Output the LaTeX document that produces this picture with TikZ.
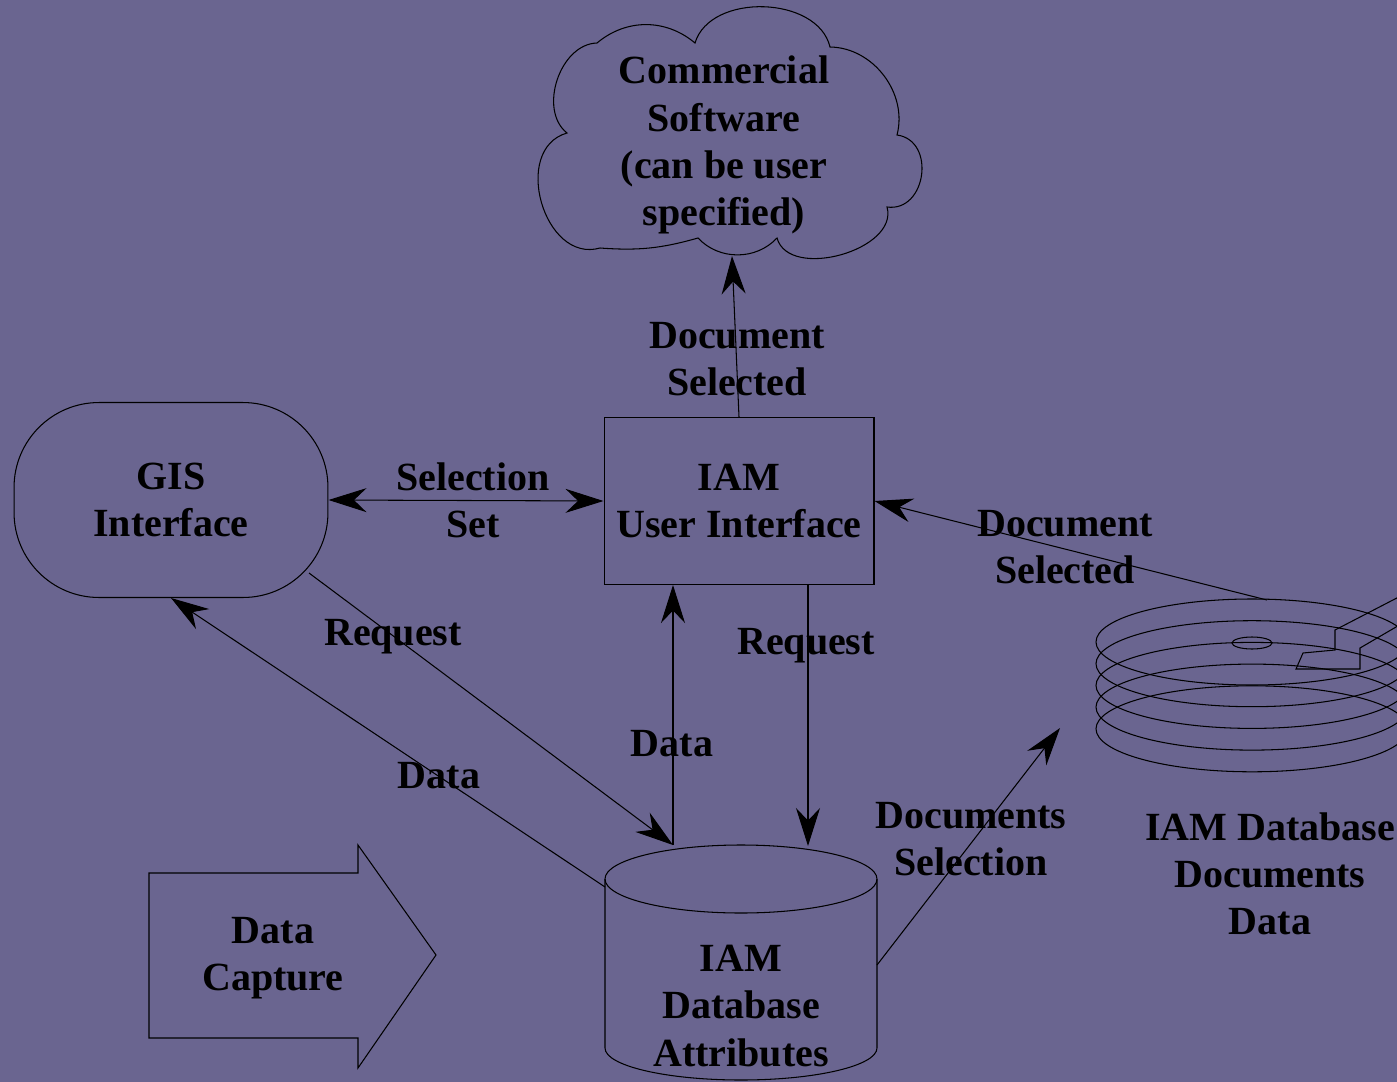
\documentclass[tikz,border=0pt]{standalone}
\usepackage{fontspec}
\setmainfont{Liberation Serif}
\usepackage{tikz}
\usetikzlibrary{arrows.meta}
\usetikzlibrary{positioning}
\definecolor{bgpurple}{RGB}{106,101,144}

\begin{document}
\begin{tikzpicture}[x=0.02cm, y=-0.02cm, line width=0.6pt,
    flow/.style={-{Stealth[length=0.76cm,width=0.48cm,inset=0.25cm]}},
    flowboth/.style={{Stealth[length=0.76cm,width=0.48cm,inset=0.25cm]}-{Stealth[length=0.76cm,width=0.48cm,inset=0.25cm]}},
    gisbox/.style={draw, rounded corners=1.7cm, minimum width=6.28cm, minimum height=3.9cm},
    uibox/.style={draw, minimum width=5.4cm, minimum height=3.34cm}]
          \tikzstyle{every node}=[font=\fontsize{22.76}{26.8}\selectfont\bfseries, align=center, inner sep=0pt]
          \fill[bgpurple] (0,0) rectangle (1397,1082);
          \useasboundingbox (0,0) rectangle (1397,1082);
          \clip (0,0) rectangle (1397,1082);
          % cloud
          \draw (597,43) to[bend left=40] (695,43) to[bend left=75] (830,47)
            to[bend left=52] (897,135) to[bend left=90, looseness=1.4] (887,207)
            to[bend left=90] (777,238) to[bend left=47] (698,238)
            to[bend left=10] (600,248) to[bend left=90, looseness=1.25] (567,133)
            to[bend left=70] (597,43);
          \node (cloudtxt) at (724,145) {Commercial\\Software\\(can be user\\specified)};
          \coordinate (cloudbot) at (732,256);
          % boxes
          \node[gisbox] (gis) at (171,500) {GIS\\Interface};
          \node[uibox] (ui) at (739,501) {IAM\\User Interface};
          % attributes database
          \draw (605,879) -- (605,1048) arc[start angle=180, end angle=0, x radius=136, y radius=32] -- (877,879);
          \draw (741,879) ellipse[x radius=136, y radius=34];
          \node (dbattr) at (741,1006) {IAM\\Database\\Attributes};
          \coordinate (dbtop) at (673,845);
          \coordinate (dbtopr) at (808,846);
          \coordinate (dbleft) at (605,887);
          \coordinate (dbright) at (877,965);
          % data capture
          \draw (149,873) -- (358,873) -- (358,845) -- (436,955) -- (358,1068) -- (358,1038) -- (149,1038) -- cycle;
          \node (capture) at (273,958) {Data\\Capture};
          % documents disk
          \foreach \k in {0,...,4}
            \draw (1252,642+21.7*\k) ellipse[x radius=156, y radius=43];
          \draw (1252,643) ellipse[x radius=20, y radius=6];
          \draw (1420,586) -- (1335,630) -- (1335,650) -- (1303,653) -- (1296,669) -- (1360,669) -- (1360,648) -- (1420,613);
          \coordinate (disktop) at (1267,600);
          \coordinate (docsend) at (1060,728);
          \node (dbdocs) at (1270,874) {IAM Database\\Documents\\Data};
          % connectors
          \draw[flow] (ui.north) -- (cloudbot);
          \draw[flowboth] (gis.east) -- (ui.west);
          \coordinate (gisreq) at (309,573);
          \draw[flow] (gisreq) -- (dbtop);
          \draw[flow] (dbleft) -- (gis.south);
          \draw[flow] (dbtop) -- (dbtop |- ui.south);
          \draw[flow] (ui.south -| dbtopr) -- (dbtopr);
          \draw[flow] (dbright) -- (docsend);
          \draw[flow] (disktop) -- (ui.east);
          % labels
          \node (lbldocsel) at (737,359) {Document\\Selected};
          \node (lblselset) at (473,500) {Selection\\Set};
          \node (lbldocsel2) at (1065,547) {Document\\Selected};
          \node (lblreq) at (393,637) {Request};
          \node (lblreq2) at (806,646) {Request};
          \node (lbldata) at (672,744) {Data};
          \node (lbldata2) at (439,776) {Data};
          \node (lbldocs) at (971,839) {Documents\\Selection};
        \end{tikzpicture}
\end{document}
